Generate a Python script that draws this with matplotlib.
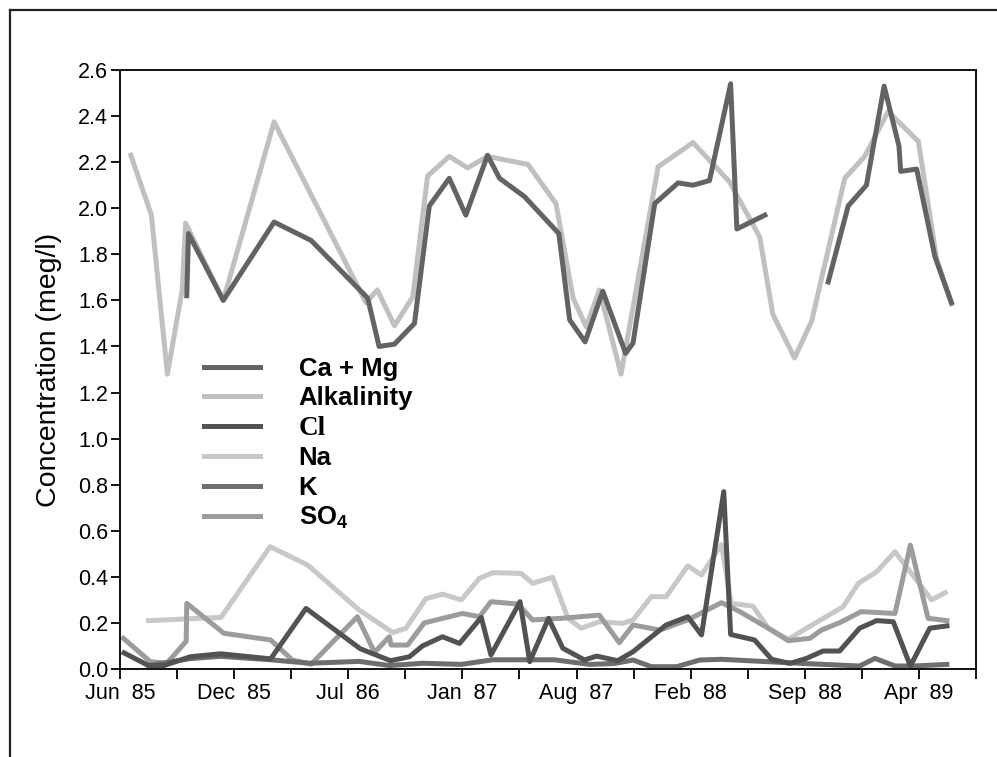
import numpy as np
import matplotlib
matplotlib.use("Agg")
import matplotlib.pyplot as plt
from matplotlib.lines import Line2D

plt.rcParams['font.family'] = ['Liberation Sans', 'DejaVu Sans']
plt.rcParams['mathtext.fontset'] = 'custom'
plt.rcParams['mathtext.rm'] = 'Liberation Sans'
plt.rcParams['mathtext.bf'] = 'Liberation Sans:bold'

# x values are days since 1 June 1985
camg_day = [117, 120, 181, 270, 335, 434, 454, 481, 516, 542, 577, 606, 644, 665, 709, 769,
            788, 815, 846, 886, 899, 937, 978, 1004, 1033, 1070, 1081, 1130, 1185,
            1241, 1276, 1308, 1339, 1365, 1368, 1396, 1428, 1457]
camg_val = [1.62, 1.89, 1.60, 1.94, 1.86, 1.61, 1.40, 1.41, 1.50, 2.01, 2.13, 1.97, 2.23, 2.13, 2.05, 1.89,
            1.515, 1.42, 1.64, 1.37, 1.415, 2.02, 2.11, 2.10, 2.12, 2.54, 1.91, 1.97, np.nan,
            1.68, 2.01, 2.10, 2.53, 2.27, 2.16, 2.17, 1.79, 1.59]

alk_day = [19, 55, 83, 109, 115, 181, 270, 431, 451, 481, 513, 539, 577, 609, 644, 715, 764,
           794, 817, 840, 878, 943, 1004, 1068, 1121, 1144, 1182, 1212, 1270, 1305, 1346,
           1399, 1431, 1457]
alk_val = [2.23, 1.97, 1.28, 1.645, 1.935, 1.60, 2.375, 1.59, 1.645, 1.49, 1.615, 2.14, 2.225,
           2.175, 2.225, 2.19, 2.02, 1.61, 1.485, 1.645, 1.28, 2.18, 2.285, 2.115, 1.875, 1.54,
           1.35, 1.51, 2.13, 2.225, 2.42, 2.29, 1.78, 1.585]

cl_day = [7, 50, 77, 123, 176, 264, 326, 421, 474, 507, 530, 565, 595, 633, 650, 701, 718, 751,
          776, 814, 835, 872, 899, 957, 995, 1019, 1058, 1070, 1112, 1142, 1174, 1203, 1232,
          1261, 1296, 1326, 1355, 1385, 1419, 1449]
cl_val = [0.07, 0.015, 0.015, 0.053, 0.066, 0.044, 0.263, 0.088, 0.036, 0.053, 0.10, 0.14, 0.111,
          0.224, 0.061, 0.292, 0.032, 0.22, 0.09, 0.039, 0.056, 0.036, 0.075, 0.191, 0.227, 0.148,
          0.77, 0.15, 0.126, 0.042, 0.024, 0.046, 0.078, 0.078, 0.177, 0.21, 0.205, 0.013,
          0.177, 0.187]

na_day = [50, 177, 263, 329, 419, 478, 501, 536, 565, 598, 630, 653, 703, 723, 758, 785, 808,
          840, 881, 899, 931, 957, 995, 1019, 1054, 1071, 1109, 1136, 1171, 1203, 1267, 1294,
          1326, 1358, 1422, 1446]
na_val = [0.21, 0.224, 0.531, 0.451, 0.256, 0.158, 0.177, 0.305, 0.325, 0.30, 0.394, 0.418,
          0.415, 0.372, 0.398, 0.22, 0.177, 0.205, 0.198, 0.213, 0.314, 0.314, 0.448, 0.408,
          0.54, 0.285, 0.273, 0.177, 0.129, 0.177, 0.27, 0.372, 0.422, 0.509, 0.30, 0.331]

k_day = [50, 123, 176, 264, 332, 419, 472, 530, 598, 653, 761, 823, 867, 899, 931, 975, 1016,
         1054, 1109, 1197, 1296, 1323, 1358, 1390, 1449]
k_val = [0.015, 0.045, 0.055, 0.04, 0.025, 0.033, 0.015, 0.025, 0.02, 0.04, 0.04, 0.02, 0.024,
         0.039, 0.01, 0.01, 0.039, 0.042, 0.035, 0.024, 0.013, 0.046, 0.013, 0.013, 0.02]

so4_day = [6, 53, 82, 116, 117, 182, 264, 302, 335, 416, 446, 472, 475, 504, 533, 600, 630, 650,
           697, 723, 773, 840, 875, 899, 946, 995, 1054, 1086, 1136, 1171, 1209, 1229, 1261,
           1299, 1358, 1385, 1416, 1449]
so4_val = [0.133, 0.032, 0.025, 0.12, 0.285, 0.155, 0.126, 0.039, 0.021, 0.227, 0.072, 0.14,
           0.104, 0.104, 0.20, 0.241, 0.227, 0.292, 0.282, 0.213, 0.22, 0.234, 0.114, 0.191,
           0.169, 0.213, 0.288, 0.249, 0.177, 0.123, 0.133, 0.169, 0.201, 0.249, 0.241, 0.538,
           0.22, 0.21]

tick_days = list(range(0, 1501, 100))
tick_labels = ['Jun  85', '', 'Dec  85', '', 'Jul  86', '', 'Jan  87', '', 'Aug  87', '',
               'Feb  88', '', 'Sep  88', '', 'Apr  89', '']
y_ticks = [round(0.2 * i, 1) for i in range(14)]

W, H = 997, 757
fig = plt.figure(figsize=(W / 100, H / 100), dpi=100)
ax = fig.add_axes([120 / W, 1 - 669 / H, (976 - 120) / W, (669 - 70) / H])

lw = 3.6
ax.plot(alk_day, alk_val, color='#c0c0c0', lw=lw, label='Alkalinity')
ax.plot(camg_day, camg_val, color='#636363', lw=lw, label='Ca + Mg')
ax.plot(na_day, na_val, color='#c8c8c8', lw=lw, label='Na')
ax.plot(so4_day, so4_val, color='#9c9c9c', lw=lw, label=r'$\mathbf{SO_4}$')
ax.plot(k_day, k_val, color='#6e6e6e', lw=lw, label='K')
ax.plot(cl_day, cl_val, color='#525252', lw=lw, label='Cl')

ax.set_xlim(0, 1500)
ax.set_ylim(0, 2.6)
ax.set_xticks(tick_days)
ax.set_xticklabels(tick_labels)
ax.set_yticks(y_ticks)
ax.set_yticklabels([f'{v:.1f}' for v in y_ticks])
ax.tick_params(axis='x', direction='out', length=7, width=1.3, labelsize=15.5, pad=3)
ax.tick_params(axis='y', direction='out', length=6.5, width=1.3, labelsize=15.5, pad=2)
for s in ax.spines.values():
    s.set_linewidth(1.4)
    s.set_color('#111111')

ax.set_ylabel('Concentration (meg/l)', fontsize=20.5)
ax.yaxis.set_label_coords(-(120 - 62) / 856, 0.5)

handles, labels = ax.get_legend_handles_labels()
order = ['Ca + Mg', 'Alkalinity', 'Cl', 'Na', 'K', r'$\mathbf{SO_4}$']
hmap = dict(zip(labels, handles))
leg = ax.legend([hmap[o] for o in order], order, loc='upper left',
                bbox_to_anchor=((204 - 120) / 856, (669 - 357) / 599),
                frameon=False, borderpad=0, borderaxespad=0,
                prop={'weight': 'bold', 'size': 18.5},
                handlelength=2.18, handletextpad=1.5, labelspacing=0.21)
for t in leg.get_texts():
    if t.get_text() == 'Cl':
        t.set_fontfamily('Liberation Serif')
        t.set_fontsize(19.5)

# outer frame (top and left edges)
fig.add_artist(Line2D([9.5 / W, 1], [1 - 10 / H, 1 - 10 / H], color='#222222', lw=1.6,
                      transform=fig.transFigure))
fig.add_artist(Line2D([9.5 / W, 9.5 / W], [0, 1 - 10 / H], color='#222222', lw=1.6,
                      transform=fig.transFigure))

fig.savefig('out.png', dpi=100)
